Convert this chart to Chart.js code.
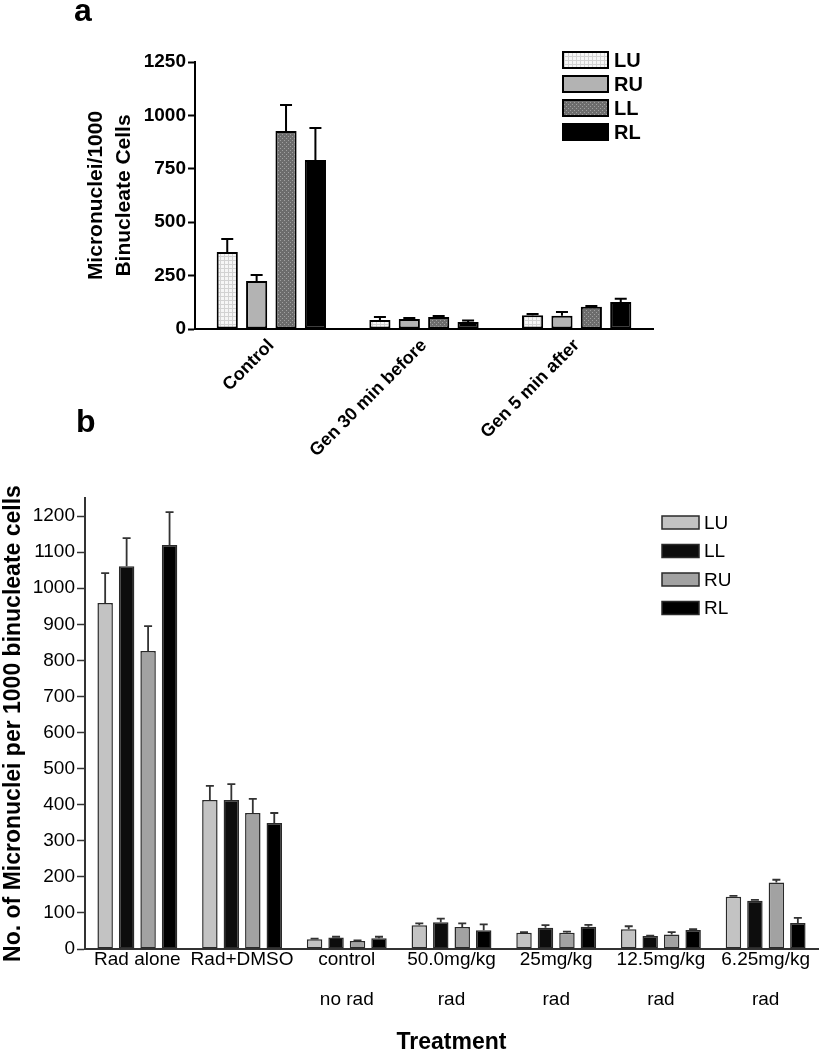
<!DOCTYPE html>
<html>
<head>
<meta charset="utf-8">
<script src="https://cdn.jsdelivr.net/npm/chart.js@4.4.1/dist/chart.umd.min.js"></script>
<style>
  body { margin: 0; background: #fff; width: 825px; height: 1050px; position: relative; overflow: hidden; font-family: "Liberation Sans", Arial, sans-serif; }
  .panel { position: absolute; left: 0; }
  .tag { position: absolute; z-index: 2; font-weight: bold; font-size: 32px; line-height: 32px; }
</style>
</head>
<body>
<div class="tag" style="left:74px;top:-6px">a</div>
<canvas id="chartA" class="panel" width="825" height="470" style="top:0"></canvas>
<div class="tag" style="left:76px;top:405px">b</div>
<canvas id="chartB" class="panel" width="825" height="596" style="top:460px"></canvas>
<script>
// panel a
const groupsA = ['Control', 'Gen 30 min before', 'Gen 5 min after'];
const luA = [360, 42, 64];
const ruA = [225, 47, 62];
const llA = [927, 56, 104];
const rlA = [791, 33, 126];
const luAErr = [61, 14, 6];
const ruAErr = [28, 5, 18];
const llAErr = [122, 5, 4];
const rlAErr = [150, 7, 16];
const ticksA = [0, 250, 500, 750, 1000, 1250];

// panel b
const groupsB = [['Rad alone', ''], ['Rad+DMSO', ''], ['control', 'no rad'], ['50.0mg/kg', 'rad'],
                 ['25mg/kg', 'rad'], ['12.5mg/kg', 'rad'], ['6.25mg/kg', 'rad']];
const luB = [959, 413, 27, 66, 45, 55, 145];
const llB = [1061, 413, 32, 74, 59, 36, 134];
const ruB = [826, 377, 22, 61, 45, 40, 184];
const rlB = [1120, 349, 30, 52, 62, 53, 72];
const luBErr = [83, 39, 2, 5, 2, 8, 2];
const llBErr = [78, 44, 2, 10, 7, 1, 2];
const ruBErr = [69, 39, 2, 10, 3, 7, 8];
const rlBErr = [91, 28, 4, 16, 5, 2, 14];
const ticksB = [0, 100, 200, 300, 400, 500, 600, 700, 800, 900, 1000, 1100, 1200];

const FONT = '"Liberation Sans", Arial, sans-serif';

function makePattern(base, mark, cells) {
  const c = document.createElement('canvas');
  c.width = 4; c.height = 4;
  const g = c.getContext('2d');
  g.fillStyle = base;
  g.fillRect(0, 0, 4, 4);
  g.fillStyle = mark;
  cells.forEach(p => g.fillRect(p[0], p[1], 1, 1));
  return g.createPattern(c, 'repeat');
}

const gridLight = makePattern('#f6f6f6', '#d2d2d2', [[0, 0], [0, 1], [0, 2], [0, 3], [1, 0], [2, 0], [3, 0]]);
const dotsDark = makePattern('#6c6c6c', '#a0a0a0', [[0, 0], [2, 2]]);

const errorBars = {
  id: 'errorBars',
  afterDatasetsDraw(chart, args, opts) {
    const ctx = chart.ctx;
    const y = chart.scales.y;
    chart.data.datasets.forEach((ds, i) => {
      chart.getDatasetMeta(i).data.forEach((bar, j) => {
        const top = y.getPixelForValue(ds.data[j] + ds.errors[j]);
        ctx.save();
        ctx.strokeStyle = opts.color;
        ctx.lineWidth = opts.width;
        ctx.beginPath();
        ctx.moveTo(bar.x, bar.y);
        ctx.lineTo(bar.x, top);
        ctx.moveTo(bar.x - opts.cap / 2, top);
        ctx.lineTo(bar.x + opts.cap / 2, top);
        ctx.stroke();
        ctx.restore();
      });
    });
  }
};

const boxLegend = {
  id: 'boxLegend',
  afterDraw(chart, args, o) {
    const ctx = chart.ctx;
    chart.data.datasets.forEach((ds, i) => {
      const top = o.y + i * o.step;
      ctx.save();
      ctx.fillStyle = ds.backgroundColor;
      ctx.fillRect(o.x, top, o.w, o.h);
      ctx.lineWidth = o.border;
      ctx.strokeStyle = ds.borderColor;
      ctx.strokeRect(o.x, top, o.w, o.h);
      ctx.fillStyle = '#000';
      ctx.font = o.font;
      ctx.textBaseline = 'middle';
      ctx.fillText(ds.label, o.x + o.w + o.gap, top + o.h / 2 + 1);
      ctx.restore();
    });
  }
};

const plainNum = v => String(v);

const chartA = new Chart(document.getElementById('chartA'), {
  type: 'bar',
  data: {
    labels: groupsA,
    datasets: [
      { label: 'LU', data: luA, errors: luAErr, backgroundColor: gridLight },
      { label: 'RU', data: ruA, errors: ruAErr, backgroundColor: '#b3b3b3' },
      { label: 'LL', data: llA, errors: llAErr, backgroundColor: dotsDark },
      { label: 'RL', data: rlA, errors: rlAErr, backgroundColor: '#000' }
    ].map(d => Object.assign(d, { borderColor: '#000', borderWidth: 2, borderSkipped: false,
                                   categoryPercentage: 0.77, barPercentage: 0.72 }))
  },
  options: {
    responsive: false,
    animation: false,
    devicePixelRatio: 1,
    layout: { padding: { left: 82, right: 172, top: 62, bottom: 0 } },
    plugins: {
      legend: { display: false },
      tooltip: { enabled: false },
      errorBars: { color: '#000', width: 2, cap: 12 },
      boxLegend: { x: 563, y: 52, w: 45, h: 16, step: 24, gap: 6, border: 2,
                   font: 'bold 20px ' + FONT }
    },
    scales: {
      x: {
        grid: { display: false, drawTicks: false },
        border: { color: '#000', width: 2 },
        afterFit: s => { s.height = 141; },
        ticks: { color: '#000', autoSkip: false, minRotation: 45, maxRotation: 45, padding: 6,
                 font: { family: FONT, size: 18, weight: 'bold' } }
      },
      y: {
        min: 0, max: 1250,
        afterBuildTicks: s => { s.ticks = ticksA.map(v => ({ value: v })); },
        afterFit: s => { s.width = 113; },
        grid: { drawOnChartArea: false, tickLength: 7, tickWidth: 2, tickColor: '#000' },
        border: { color: '#000', width: 2 },
        ticks: { color: '#000', padding: 2, callback: plainNum,
                 font: { family: FONT, size: 19, weight: 'bold' } },
        title: { display: true, text: ['Micronuclei/1000', 'Binucleate Cells'], color: '#000',
                 padding: { top: 0, bottom: 8 },
                 font: { family: FONT, size: 21, weight: 'bold', lineHeight: 1.33 } }
      }
    }
  },
  plugins: [errorBars, boxLegend]
});

const chartB = new Chart(document.getElementById('chartB'), {
  type: 'bar',
  data: {
    labels: groupsB,
    datasets: [
      { label: 'LU', data: luB, errors: luBErr, backgroundColor: '#c3c3c3' },
      { label: 'LL', data: llB, errors: llBErr, backgroundColor: '#0d0d0d' },
      { label: 'RU', data: ruB, errors: ruBErr, backgroundColor: '#a2a2a2' },
      { label: 'RL', data: rlB, errors: rlBErr, backgroundColor: '#000' }
    ].map(d => Object.assign(d, { borderColor: '#2a2a2a', borderWidth: 1.5, borderSkipped: false,
                                   categoryPercentage: 0.82, barPercentage: 0.72 }))
  },
  options: {
    responsive: false,
    animation: false,
    devicePixelRatio: 1,
    layout: { padding: { left: 0, right: 7, top: 38, bottom: 0 } },
    plugins: {
      legend: { display: false },
      tooltip: { enabled: false },
      errorBars: { color: '#333', width: 1.8, cap: 8 },
      boxLegend: { x: 662, y: 56, w: 37, h: 13, step: 28.5, gap: 5, border: 1.5,
                   font: '19px ' + FONT }
    },
    scales: {
      x: {
        grid: { display: false, drawTicks: false },
        border: { color: '#333', width: 2 },
        afterFit: s => { s.height = 107; },
        ticks: { color: '#000', autoSkip: false, minRotation: 0, maxRotation: 0, padding: -9,
                 font: { family: FONT, size: 19, lineHeight: 2.1 } },
        title: { display: true, text: 'Treatment', color: '#000', padding: { top: 0, bottom: 0 },
                 font: { family: FONT, size: 23, weight: 'bold' } }
      },
      y: {
        min: 0, max: 1250,
        afterBuildTicks: s => { s.ticks = ticksB.map(v => ({ value: v })); },
        afterFit: s => { s.width = 85; },
        grid: { drawOnChartArea: false, tickLength: 8, tickWidth: 1.5, tickColor: '#333' },
        border: { color: '#333', width: 2 },
        ticks: { color: '#000', padding: 2, callback: plainNum, font: { family: FONT, size: 19 } },
        title: { display: true, text: 'No. of Micronuclei per 1000 binucleate cells', color: '#000',
                 padding: { top: 0, bottom: 4 },
                 font: { family: FONT, size: 23, weight: 'bold' } }
      }
    }
  },
  plugins: [errorBars, boxLegend]
});
</script>
</body>
</html>
